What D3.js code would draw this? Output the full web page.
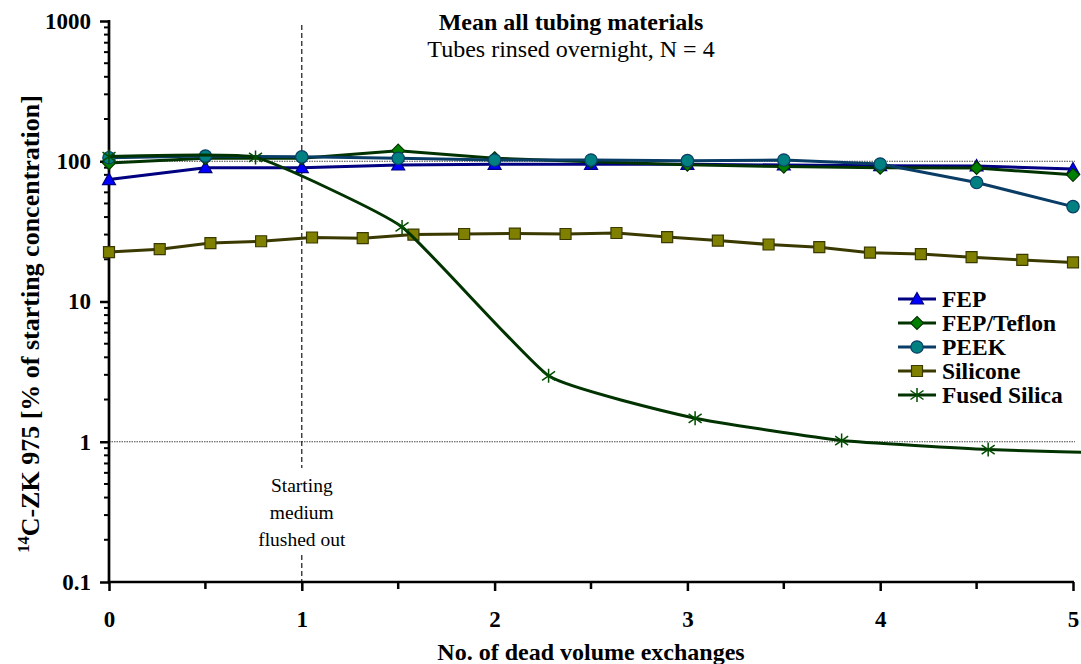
<!DOCTYPE html>
<html>
<head>
<meta charset="utf-8">
<script src="https://cdn.jsdelivr.net/npm/d3@7"></script>
<style>
  html, body { margin: 0; padding: 0; background: #fff; }
  svg { display: block; font-family: "Liberation Serif", "Times New Roman", serif; }
</style>
</head>
<body>
<svg id="chart" width="1081" height="664"></svg>
<script>
// ---- data ----
const xMain = [0, 0.5, 1, 1.5, 2, 2.5, 3, 3.5, 4, 4.5, 5];
const fep = [74, 90, 90, 94, 95, 95, 95, 94, 93, 92.5, 88];
const fepTeflon = [97, 105, 105, 119, 105, 99, 94.5, 91.6, 90, 89.5, 80];
const peek = [106, 109, 107.5, 105, 102, 102, 101, 102, 95.5, 70.5, 47.5];
const xSilicone = [0, 0.263, 0.526, 0.789, 1.053, 1.316, 1.579, 1.842, 2.105, 2.368,
                   2.632, 2.895, 3.158, 3.421, 3.684, 3.947, 4.211, 4.474, 4.737, 5];
const silicone = [22.5, 23.6, 26.1, 26.9, 28.6, 28.3, 30.0, 30.3, 30.5, 30.3,
                  30.8, 28.8, 27.2, 25.5, 24.4, 22.3, 21.8, 20.7, 19.8, 19.0];
const xFused = [0, 0.76, 1.52, 2.28, 3.04, 3.8, 4.56, 5.32];
const fused = [108, 106.5, 34, 2.95, 1.47, 1.02, 0.88, 0.82];

const xTicks = [0, 1, 2, 3, 4, 5];
const xMinorTicks = [0.5, 1.5, 2.5, 3.5, 4.5];
const yTicks = [0.1, 1, 10, 100, 1000];
const yTickLabels = ["0.1", "1", "10", "100", "1000"];
const refLines = [1, 100];
const flushX = 1;
const seriesNames = ["FEP", "FEP/Teflon", "PEEK", "Silicone", "Fused Silica"];

const title = "Mean all tubing materials";
const subtitle = "Tubes rinsed overnight, N = 4";
const xTitle = "No. of dead volume exchanges";
const noteLines = ["Starting", "medium", "flushed out"];

// ---- layout ----
const svg = d3.select("#chart");
const L = 109, R = 1073, T = 21, B = 582;
const x = d3.scaleLinear().domain([0, 5]).range([L, R]);
const y = d3.scaleLog().domain([0.1, 1000]).range([B, T]);
const serif = '"Liberation Serif", "Times New Roman", serif';

// clip
svg.append("defs").append("clipPath").attr("id", "plotclip")
  .append("rect").attr("x", L - 10).attr("y", 0).attr("width", R - L + 18).attr("height", B + 10);

// reference dotted lines
svg.selectAll(".ref").data(refLines).enter().append("line")
  .attr("x1", L).attr("x2", R + 2)
  .attr("y1", d => y(d)).attr("y2", d => y(d))
  .attr("stroke", "#444").attr("stroke-width", 1).attr("stroke-dasharray", "1.5,1");

// vertical dashed line (with gap for note)
const vx = x(flushX);
svg.append("line").attr("x1", vx).attr("x2", vx).attr("y1", 25).attr("y2", 468)
  .attr("stroke", "#000").attr("stroke-width", 1.1).attr("stroke-dasharray", "5,3");
svg.append("line").attr("x1", vx).attr("x2", vx).attr("y1", 555).attr("y2", B)
  .attr("stroke", "#000").attr("stroke-width", 1.1).attr("stroke-dasharray", "5,3");
svg.append("g").selectAll("text").data(noteLines).enter().append("text")
  .attr("x", vx).attr("y", (d, i) => 492 + i * 27)
  .attr("text-anchor", "middle").attr("font-size", 19.5).attr("fill", "#000")
  .text(d => d);

// ---- axes ----
const yAxis = d3.axisLeft(y).tickValues(yTicks).tickFormat((d, i) => yTickLabels[i]).tickSize(9).tickPadding(9);
const gy = svg.append("g").attr("transform", `translate(${L},0)`).call(yAxis);
gy.select(".domain").remove();
gy.selectAll(".tick line").attr("stroke", "#000").attr("stroke-width", 2.5);
gy.selectAll(".tick text").attr("font-family", serif).attr("font-weight", "bold").attr("font-size", 23).attr("fill", "#000");
// minor y ticks
const minorY = [];
[0.1, 1, 10, 100].forEach(dec => { for (let k = 2; k <= 9; k++) minorY.push(dec * k); });
svg.append("g").selectAll("line").data(minorY).enter().append("line")
  .attr("x1", L - 5).attr("x2", L).attr("y1", d => y(d)).attr("y2", d => y(d))
  .attr("stroke", "#000").attr("stroke-width", 2);

const xAxis = d3.axisBottom(x).tickValues(xTicks).tickFormat(d3.format("d")).tickSize(9).tickPadding(20);
const gx = svg.append("g").attr("transform", `translate(0,${B})`).call(xAxis);
gx.select(".domain").remove();
gx.selectAll(".tick line").attr("stroke", "#000").attr("stroke-width", 2.5);
gx.selectAll(".tick text").attr("font-family", serif).attr("font-weight", "bold").attr("font-size", 23).attr("fill", "#000");
svg.append("g").selectAll("line").data(xMinorTicks).enter().append("line")
  .attr("x1", d => x(d)).attr("x2", d => x(d)).attr("y1", B).attr("y2", B + 7)
  .attr("stroke", "#000").attr("stroke-width", 2.5);

// axis lines
svg.append("line").attr("x1", L).attr("x2", L).attr("y1", T - 1).attr("y2", B + 1.25)
  .attr("stroke", "#000").attr("stroke-width", 2.7);
svg.append("line").attr("x1", L - 1.25).attr("x2", R + 1).attr("y1", B).attr("y2", B)
  .attr("stroke", "#000").attr("stroke-width", 2.7);

// ---- series ----
const sym = {
  tri: "M0,-6.5L6.5,5L-6.5,5Z",
  diamond: "M0,-6.5L6.5,0L0,6.5L-6.5,0Z",
  square: "M-5.5,-5.5H5.5V5.5H-5.5Z",
  star: "M0,-7V7M-6.5,-4.5L6.5,4.5M-6.5,4.5L6.5,-4.5"
};
const series = [
  {name: seriesNames[0], xs: xMain, ys: fep, line: "#000080", fill: "#0000ff", stroke: "#000080", shape: "tri", curve: d3.curveLinear},
  {name: seriesNames[1], xs: xMain, ys: fepTeflon, line: "#003300", fill: "#008000", stroke: "#003300", shape: "diamond", curve: d3.curveLinear},
  {name: seriesNames[2], xs: xMain, ys: peek, line: "#0a3d66", fill: "#008080", stroke: "#0a3d66", shape: "circle", curve: d3.curveLinear},
  {name: seriesNames[3], xs: xSilicone, ys: silicone, line: "#3a3a00", fill: "#808000", stroke: "#3a3a00", shape: "square", curve: d3.curveLinear},
  {name: seriesNames[4], xs: xFused, ys: fused, line: "#003300", fill: "none", stroke: "#004d00", shape: "star", curve: d3.curveCardinal.tension(0.6)}
];

function drawMarker(g, s, cx, cy) {
  if (s.shape === "circle") {
    g.append("circle").attr("cx", cx).attr("cy", cy).attr("r", 6.2)
      .attr("fill", s.fill).attr("stroke", s.stroke).attr("stroke-width", 1.2);
  } else if (s.shape === "star") {
    g.append("path").attr("d", sym.star).attr("transform", `translate(${cx},${cy})`)
      .attr("fill", "none").attr("stroke", s.stroke).attr("stroke-width", 1.5);
  } else {
    g.append("path").attr("d", sym[s.shape]).attr("transform", `translate(${cx},${cy})`)
      .attr("fill", s.fill).attr("stroke", s.stroke).attr("stroke-width", 1.2);
  }
}

const plot = svg.append("g").attr("clip-path", "url(#plotclip)");
series.forEach(s => {
  const pts = s.xs.map((xv, i) => [xv, s.ys[i]]);
  const line = d3.line().x(d => x(d[0])).y(d => y(d[1])).curve(s.curve);
  const g = plot.append("g");
  g.append("path").datum(pts).attr("d", line)
    .attr("fill", "none").attr("stroke", s.line).attr("stroke-width", 3).attr("stroke-linejoin", "round");
  pts.forEach(p => drawMarker(g, s, x(p[0]), y(p[1])));
});

// ---- legend ----
const lg = svg.append("g");
series.forEach((s, i) => {
  const cy = 299 + i * 24;
  lg.append("line").attr("x1", 898).attr("x2", 936).attr("y1", cy).attr("y2", cy)
    .attr("stroke", s.line).attr("stroke-width", 3);
  drawMarker(lg, s, 917, cy);
  lg.append("text").attr("x", 942).attr("y", cy).attr("dy", "0.34em")
    .attr("font-size", 23.5).attr("font-weight", "bold").attr("fill", "#000").text(s.name);
});

// ---- titles ----
svg.append("text").attr("x", 571).attr("y", 30).attr("text-anchor", "middle")
  .attr("font-size", 24).attr("font-weight", "bold").attr("fill", "#000").text(title);
svg.append("text").attr("x", 571).attr("y", 57).attr("text-anchor", "middle")
  .attr("font-size", 24).attr("fill", "#000").text(subtitle);
svg.append("text").attr("x", 591).attr("y", 660).attr("text-anchor", "middle")
  .attr("font-size", 24).attr("font-weight", "bold").attr("fill", "#000").text(xTitle);

const yt = svg.append("text").attr("transform", "translate(38,324) rotate(-90)")
  .attr("text-anchor", "middle").attr("font-size", 26).attr("font-weight", "bold").attr("fill", "#000");
yt.append("tspan").attr("font-size", 16.5).attr("dy", "-0.55em").text("14");
yt.append("tspan").attr("dy", "0.37em").text("C-ZK 975 [% of starting concentration]");
</script>
</body>
</html>
